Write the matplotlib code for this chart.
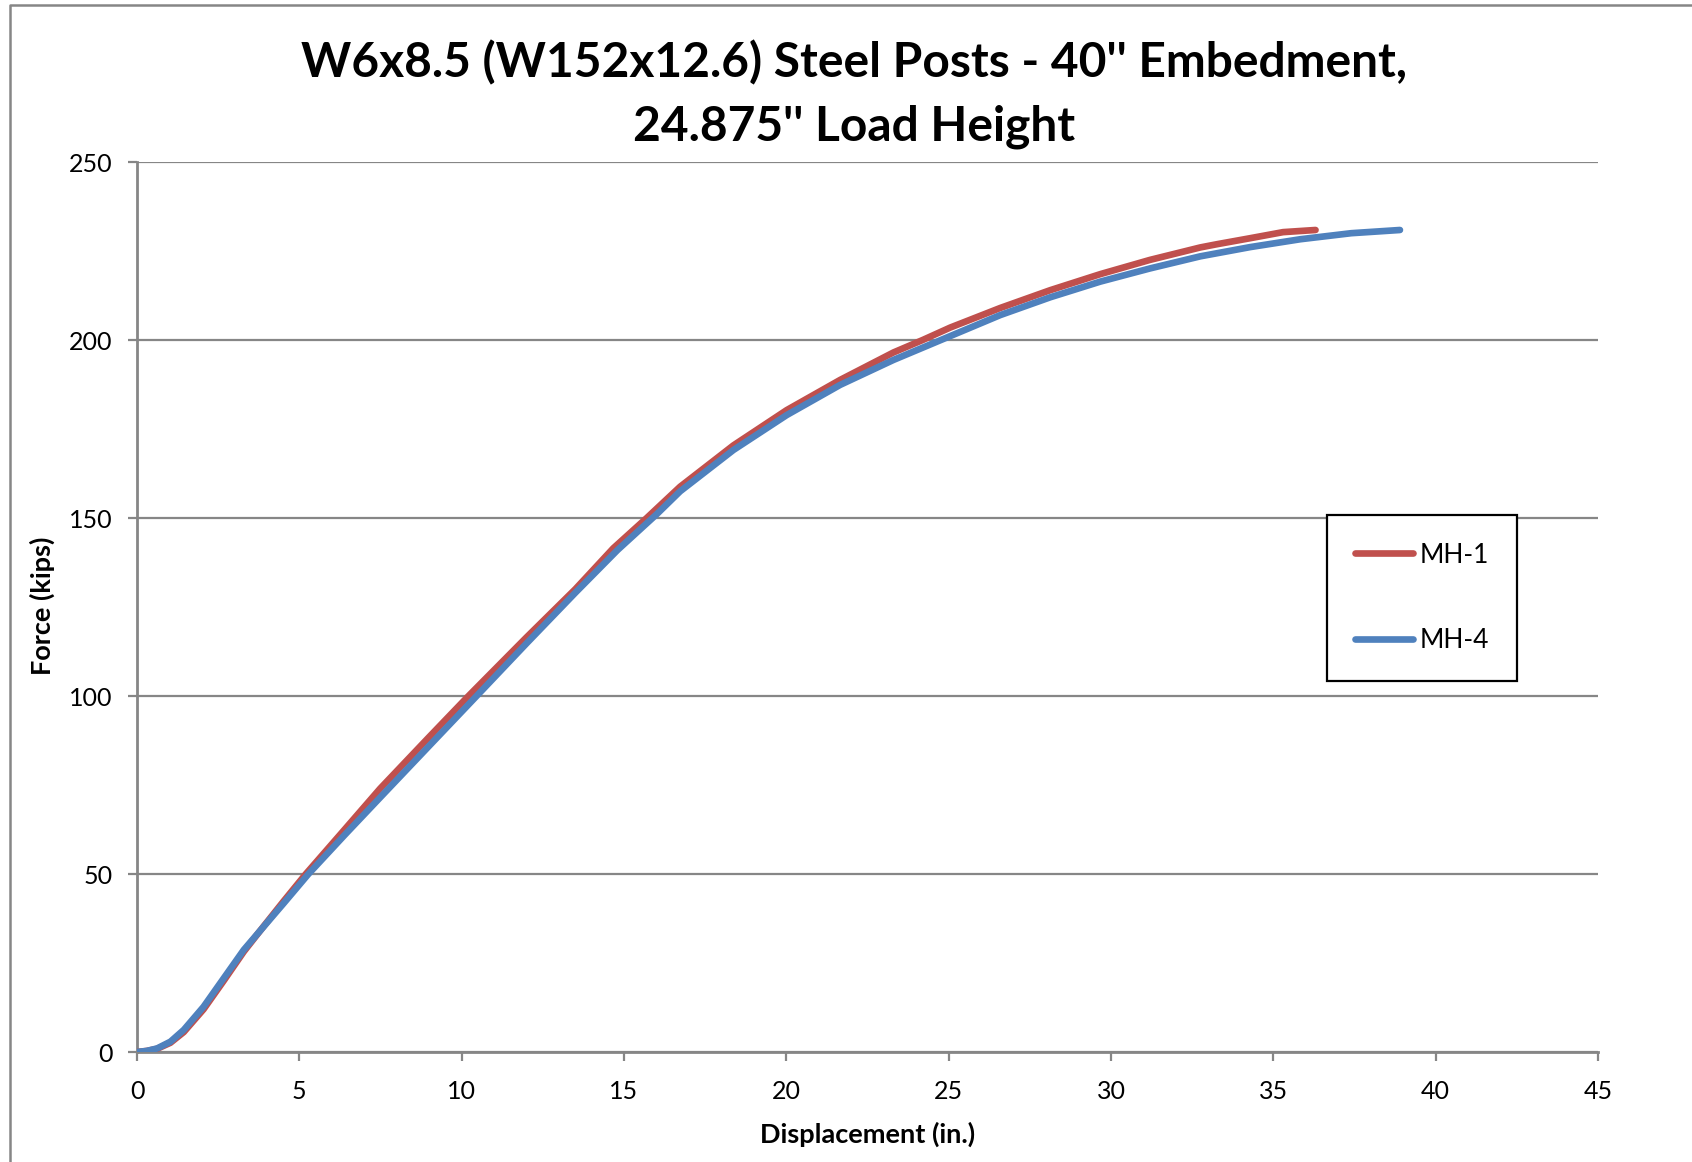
import numpy as np
import matplotlib
matplotlib.use('Agg')
import matplotlib.pyplot as plt
from matplotlib.lines import Line2D

plt.rcParams['font.family'] = ['Lato', 'DejaVu Sans']

# test curves, displacement (in.) vs force (kips)
mh1_disp = [0, 0.3, 0.62, 1.03, 1.44, 2.05, 2.67, 3.29, 3.9, 4.52, 5.2, 6.3, 7.49, 9.0,
            10.21, 12.0, 13.5, 14.67, 15.7, 16.73, 18.37, 20.01, 21.66, 23.3, 24.2, 25.05,
            26.59, 28.13, 29.67, 31.2, 32.75, 33.26, 34.29, 35.3, 36.3]
mh1_force = [0, 0.3, 0.9, 2.6, 5.6, 12, 20, 28.2, 35.3, 42.4, 50, 61.5, 74, 88.5,
             100, 116.5, 130, 141.5, 150, 158.8, 170.4, 180.3, 188.8, 196.5, 200, 203.5,
             209, 214, 218.5, 222.5, 226, 226.9, 228.6, 230.3, 230.9]

mh4_disp = [0, 0.3, 0.62, 1.03, 1.44, 2.05, 2.67, 3.29, 3.9, 4.52, 5.28, 6.4, 7.49, 9.0,
            10.46, 12.0, 13.5, 14.8, 16.0, 16.73, 18.37, 20.01, 21.66, 23.3, 24.84, 26.59,
            28.13, 29.67, 31.2, 32.75, 34.29, 35.83, 37.4, 38.9]
mh4_force = [0, 0.3, 1.0, 2.9, 6.2, 12.7, 20.7, 28.7, 35.2, 41.8, 50, 61, 71.5, 86,
             100, 114.8, 129, 141, 151, 157.5, 169.1, 178.9, 187.4, 194.4, 200.3, 207,
             212, 216.4, 220.1, 223.5, 226.1, 228.3, 230, 230.9]

labels = ['MH-1', 'MH-4']
colors = ['#C0504D', '#4F81BD']
x_ticks = np.arange(0, 46, 5)
y_ticks = np.arange(0, 251, 50)

W, H = 1692, 1162
fig = plt.figure(figsize=(W / 100, H / 100), dpi=100)
ax = fig.add_axes([137 / W, 1 - 1052 / H, (1598 - 137) / W, (1052 - 162) / H])

grey = '#868686'
for d, f, lab, c in zip([mh1_disp, mh4_disp], [mh1_force, mh4_force], labels, colors):
    ax.plot(d, f, color=c, lw=4.8, label=lab, solid_capstyle='round', solid_joinstyle='round', zorder=3)

ax.set_xlim(0, 45)
ax.set_ylim(0, 250)
ax.set_xticks(x_ticks)
ax.set_yticks(y_ticks)
ax.yaxis.grid(True, color=grey, lw=1.6)
ax.set_axisbelow(True)
for s in ['top', 'right']:
    ax.spines[s].set_visible(False)
for s in ['left', 'bottom']:
    ax.spines[s].set_color(grey)
    ax.spines[s].set_linewidth(2)
ax.tick_params(direction='out', length=6.5, width=1.6, color=grey, labelsize=18, pad=14)
ax.tick_params(axis='y', pad=11)

ax.set_xlabel('Displacement (in.)', fontsize=19.5, fontweight='bold', va='center')
ax.xaxis.set_label_coords(0.5, -0.092)
ax.set_ylabel('Force (kips)', fontsize=19.5, fontweight='bold', va='center')
ax.yaxis.set_label_coords(-0.065, 0.501)

fig.text(854 / W, 1 - 63 / H, 'W6x8.5 (W152x12.6) Steel Posts - 40\'\' Embedment,',
         ha='center', va='center', fontsize=34.5, fontweight='bold')
fig.text(854 / W, 1 - 127 / H, '24.875\'\' Load Height',
         ha='center', va='center', fontsize=34.5, fontweight='bold')

leg = ax.legend(loc='upper left', bbox_to_anchor=(1327 / W, 1 - 515 / H),
                bbox_transform=fig.transFigure, borderaxespad=0, fontsize=19,
                handlelength=2.2, handletextpad=0.25, labelspacing=2.28, borderpad=1.05,
                fancybox=False, framealpha=1)
leg.get_frame().set_edgecolor('black')
leg.get_frame().set_linewidth(1.6)

# chart-area border (cut off at right and bottom)
fig.add_artist(Line2D([10 / W, 10 / W, 1.0], [0.0, 1 - 5 / H, 1 - 5 / H],
                      transform=fig.transFigure, color=grey, lw=1.8))

fig.savefig('out.png', dpi=100)
